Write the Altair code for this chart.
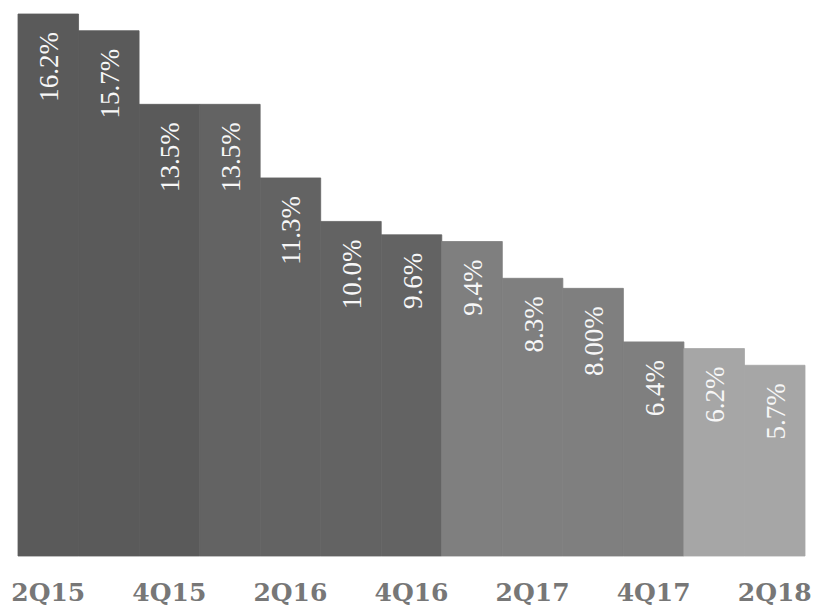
import altair as alt
import pandas as pd

quarters = ["2Q15", "3Q15", "4Q15", "1Q16", "2Q16", "3Q16", "4Q16",
            "1Q17", "2Q17", "3Q17", "4Q17", "1Q18", "2Q18"]
rates = [16.2, 15.7, 13.5, 13.5, 11.3, 10.0, 9.6, 9.4, 8.3, 8.0, 6.4, 6.2, 5.7]
labels = ["16.2%", "15.7%", "13.5%", "13.5%", "11.3%", "10.0%", "9.6%",
          "9.4%", "8.3%", "8.00%", "6.4%", "6.2%", "5.7%"]
years = ["2015", "2015", "2015", "2016", "2016", "2016", "2016",
         "2017", "2017", "2017", "2017", "2018", "2018"]
shown_ticks = ["2Q15", "4Q15", "2Q16", "4Q16", "2Q17", "4Q17", "2Q18"]
year_colors = ["#5a5a5a", "#636363", "#7f7f7f", "#a6a6a6"]

df = pd.DataFrame({"quarter": quarters, "rate": rates, "label": labels, "year": years})

x = alt.X("quarter:N", sort=quarters, title=None,
          scale=alt.Scale(paddingInner=0, paddingOuter=0),
          axis=alt.Axis(values=shown_ticks, labelAngle=0, ticks=False, domain=False,
                        labelFont="DejaVu Serif", labelFontWeight="bold",
                        labelFontSize=25, labelColor="#777777", labelPadding=24))
y = alt.Y("rate:Q", title=None, axis=None,
          scale=alt.Scale(domain=[0, 16.2], nice=False))
year_scale = alt.Scale(domain=["2015", "2016", "2017", "2018"], range=year_colors)

bars = alt.Chart(df).mark_bar(strokeWidth=0.8).encode(
    x=x, y=y,
    color=alt.Color("year:N", legend=None, scale=year_scale),
    stroke=alt.Stroke("year:N", legend=None, scale=year_scale),
)

# rotated labels: dx runs along the text (upwards on screen), dy across it
text = alt.Chart(df).mark_text(
    angle=270, align="right", baseline="middle", dx=-18, dy=2,
    font="Liberation Serif", fontSize=27, color="#f7f7f7",
).encode(x=x, y=y, text="label:N")

chart = (bars + text).properties(
    width=787, height=542,
    padding={"left": 18, "top": 14, "right": 10, "bottom": 53},
    autosize=alt.AutoSizeParams(type="none"),
    background="white",
).configure_view(stroke="transparent", strokeWidth=0)

chart.save("out.html", embed_options={"renderer": "svg", "actions": False})
